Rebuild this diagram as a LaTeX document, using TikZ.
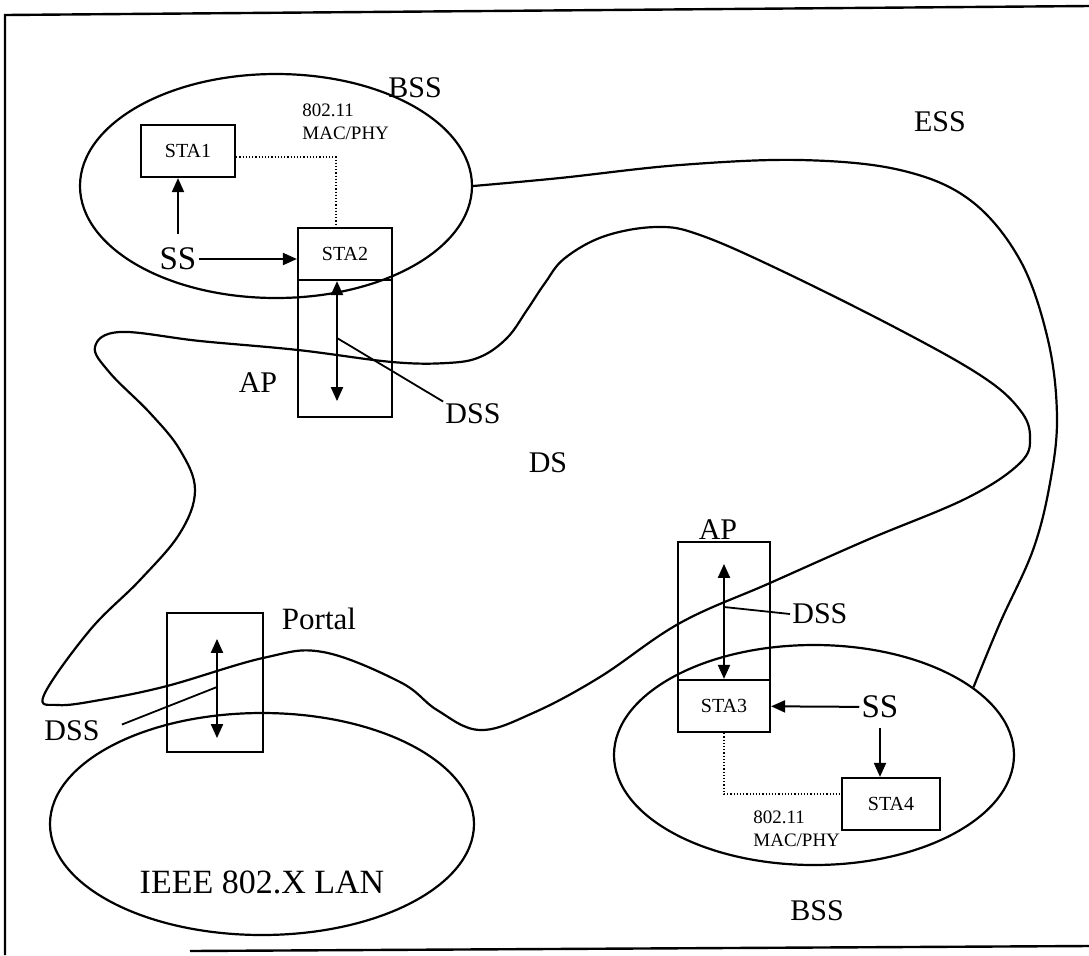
\documentclass[tikz,border=0pt]{standalone}
\usepackage{fontspec}
\setmainfont{Liberation Serif}
\usetikzlibrary{arrows.meta, positioning, shapes.geometric}

\begin{document}
\begin{tikzpicture}[
    x=0.5pt, y=-0.5pt,
    box/.style={
        rectangle, draw, line width=1.1pt, inner sep=0pt,
        font=\fontsize{10}{12}\selectfont
    },
    sta/.style={box, minimum width=47pt, minimum height=26pt},
    apbox/.style={box, minimum width=47pt, minimum height=94.5pt},
    area/.style={ellipse, draw, line width=1.1pt, inner sep=0pt},
    lbl/.style={font=\fontsize{15}{18}\selectfont, inner sep=1pt},
    phy/.style={font=\fontsize{9.5}{11.5}\selectfont, align=left, inner sep=0pt},
    arr/.style={-{Triangle[length=7pt,width=6pt]}, line width=1pt},
    dbl/.style={{Triangle[length=7pt,width=6pt]}-{Triangle[length=7pt,width=6pt]}, line width=1pt},
    link/.style={densely dotted, line width=0.6pt},
    lead/.style={line width=0.9pt},
]
\useasboundingbox (0,0) rectangle (1089,955);

% ── Frame ──────
\draw[line width=1.2pt] (1089,6) -- (5,15) -- (5,955);
\draw[line width=1.2pt] (190,951) -- (1089,946);

% ── Areas ──────
\node[area, minimum width=196pt, minimum height=112pt] (bss1) at (276,186) {};
\node[area, minimum width=200pt, minimum height=110pt] (bss2) at (814,755) {};
\node[area, minimum width=212pt, minimum height=111pt] (lan) at (262,824) {};

% DS
\draw[line width=1.1pt] plot[smooth cycle, tension=0.62] coordinates {
    (44,695) (90,630) (140,580) (180,533) (195,490) (180,450) (150,413)
    (110,373) (95,347) (120,332) (200,341) (298,350) (392,362) (447,363)
    (480,357) (507,338) (527,310) (545,283) (565,258) (605,236) (657,227)
    (700,235) (780,270) (900,330) (983,377) (1020,410) (1030,437)
    (1020,463) (967,498) (867,540) (770,583) (680,623) (600,677) (533,713)
    (480,730) (437,710) (400,682) (323,652) (263,658) (167,686) (100,700)
    (58,705)};

% ESS
\draw[line width=1.1pt] plot[smooth, tension=0.6] coordinates {
    (bss1.east) (560,178) (680,165) (800,160) (900,170) (970,200)
    (1020,260) (1048,340) (1057,417) (1050,483) (1033,550) (1000,623)
    (bss2.23)};

% ── Stations ──────
\node[sta] (sta1) at (188,151) {STA1};
\node[sta] (sta2) at (345,254) {STA2};
\node[apbox] (ap1) at (345,322.5) {};
\node[box, minimum width=48pt, minimum height=69.5pt] (portal) at (215,682.5) {};
\node[box, minimum width=46pt, minimum height=95pt] (ap2) at (724,637) {};
\node[box, minimum width=46pt, minimum height=26pt] (sta3) at (724,706) {STA3};
\node[box, minimum width=49pt, minimum height=26pt] (sta4) at (891,804) {STA4};

% ── Labels ──────
\node[lbl] (bsstop) at (415,88) {BSS};
\node[lbl] (ess) at (940,122) {ESS};
\node[phy, anchor=north west] (phy1) at (302,103) {802.11\\MAC/PHY};
\node[phy, anchor=north west] (phy2) at (753,810) {802.11\\MAC/PHY};
\node[lbl, font=\fontsize{16.5}{18}\selectfont] (ss1) at (178,259) {SS};
\node[lbl, font=\fontsize{16.5}{18}\selectfont] (ss2) at (880,707) {SS};
\node[lbl] (aplbl1) at (258,383) {AP};
\node[lbl] (aplbl2) at (718,530) {AP};
\node[lbl] (dss1) at (473,414) {DSS};
\node[lbl] (dss2) at (72,731) {DSS};
\node[lbl, anchor=west] (dss3) at (790,614) {DSS};
\node[lbl] (ds) at (548,463) {DS};
\node[lbl, font=\fontsize{15.5}{18}\selectfont] (portallbl) at (319,619) {Portal};
\node[lbl, font=\fontsize{17}{20}\selectfont] (lanlbl) at (262,882) {IEEE 802.X LAN};
\node[lbl] (bssbot) at (817,911) {BSS};

% ── Services ──────
\draw[arr] (ss1) -- (ss1 -| sta2.west);
\draw[arr] ([yshift=6pt]ss1.north) -- (ss1.north |- sta1.south);
\draw[arr] (ss2) -- (sta3);
\draw[arr] ([yshift=-4pt]ss2.south) -- (ss2.south |- sta4.north);

\draw[link] ([yshift=-3pt]sta1.east) -| ([xshift=-4.5pt]sta2.north);
\draw[link] (sta3.south) |- ([yshift=5pt]sta4.west);

% ── Distribution ──────
\coordinate (tap1) at (337,338);
\coordinate (tap2) at (217,687);
\coordinate (tap3) at (724,607);
\draw[dbl] ([xshift=-4pt]sta2.south) -- ([xshift=-4pt,yshift=8.5pt]ap1.south);
\draw[dbl] ([xshift=1pt,yshift=-13.5pt]portal.north) -- ([xshift=1pt,yshift=7.5pt]portal.south);
\draw[dbl] ([yshift=-11.5pt]ap2.north) -- (sta3.north);
\draw[lead] (tap1) -- (dss1.north west);
\draw[lead] (tap2) -- ([xshift=10pt,yshift=-3pt]dss2.north east);
\draw[lead] (tap3) -- (dss3.west);

\end{tikzpicture}
\end{document}
